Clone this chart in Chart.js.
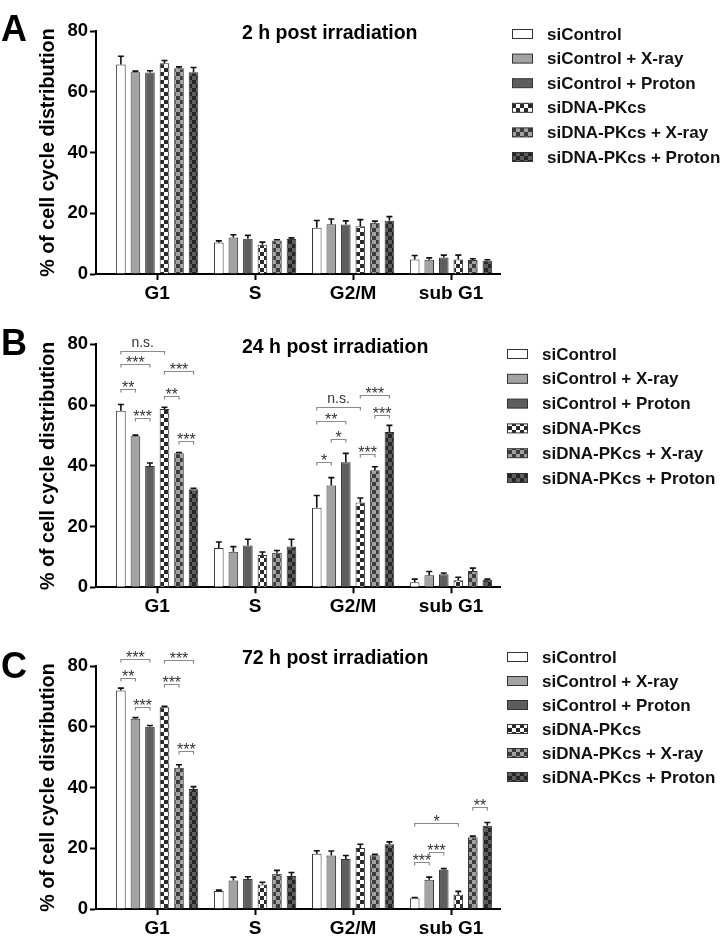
<!DOCTYPE html>
<html>
<head>
<meta charset="utf-8">
<script src="https://cdn.jsdelivr.net/npm/chart.js@4.4.1/dist/chart.umd.min.js"></script>
<style>
  body { margin: 0; background: #fff; width: 720px; height: 937px; overflow: hidden; position: relative; }
  .panel { position: absolute; left: 0; width: 720px; }
  canvas { display: block; }
</style>
</head>
<body>
<div class="panel" style="top:0"><canvas id="chartA" width="720" height="310"></canvas></div>
<div class="panel" style="top:310px"><canvas id="chartB" width="720" height="310"></canvas></div>
<div class="panel" style="top:620px"><canvas id="chartC" width="720" height="317"></canvas></div>
<script>
const categories = ['G1', 'S', 'G2/M', 'sub G1'];
const groups = ['siControl', 'siControl + X-ray', 'siControl + Proton', 'siDNA-PKcs', 'siDNA-PKcs + X-ray', 'siDNA-PKcs + Proton'];
const yTicks = [0, 20, 40, 60, 80];
const titles = ['2 h post irradiation', '24 h post irradiation', '72 h post irradiation'];
const letters = ['A', 'B', 'C'];

// one row per group, one column per category
const mean2h = [
  [69.0, 10.4, 15.2, 4.8],
  [66.4, 12.0, 16.4, 4.7],
  [66.3, 11.6, 16.3, 5.4],
  [69.4, 9.6, 15.7, 4.8],
  [67.7, 11.0, 16.9, 4.6],
  [66.4, 11.5, 17.5, 4.4]
];
const sem2h = [
  [2.7, 0.5, 2.4, 1.3],
  [0.4, 0.9, 1.7, 0.6],
  [0.6, 1.1, 1.2, 0.8],
  [0.9, 0.9, 2.2, 1.4],
  [0.5, 0.3, 0.5, 0.4],
  [1.6, 0.4, 1.4, 0.3]
];
const mean24h = [
  [58.1, 12.9, 26.2, 1.7],
  [49.7, 11.7, 33.5, 4.0],
  [39.9, 13.8, 41.2, 4.3],
  [58.7, 10.6, 27.9, 2.3],
  [44.1, 11.4, 38.5, 5.4],
  [32.3, 13.4, 51.1, 2.5]
];
const sem24h = [
  [2.1, 2.0, 4.0, 1.0],
  [0.4, 1.7, 2.6, 1.2],
  [1.0, 2.0, 2.9, 0.4],
  [0.6, 1.0, 1.5, 1.0],
  [0.3, 0.7, 1.2, 0.9],
  [0.3, 2.4, 2.2, 0.2]
];
const mean72h = [
  [71.9, 5.9, 18.2, 3.5],
  [62.6, 9.4, 17.6, 9.6],
  [60.0, 9.9, 16.5, 12.9],
  [66.4, 8.1, 20.1, 4.7],
  [46.5, 11.6, 17.7, 23.6],
  [39.5, 10.9, 21.3, 27.4]
];
const sem72h = [
  [0.8, 0.3, 1.0, 0.3],
  [0.4, 1.1, 1.5, 0.9],
  [0.4, 0.7, 1.1, 0.4],
  [0.3, 0.7, 1.2, 1.1],
  [1.0, 1.1, 0.3, 0.4],
  [0.8, 1.1, 0.8, 1.1]
];
// [category, group a, group b, bracket height, label]
const sig2h = [];
const sig24h = [
  [0, 0, 3, 77.9, 'n.s.'], [0, 0, 2, 73.4, '***'], [0, 0, 1, 65.2, '**'], [0, 1, 2, 55.7, '***'],
  [0, 3, 5, 71.2, '***'], [0, 3, 4, 63.1, '**'], [0, 4, 5, 48.3, '***'],
  [2, 0, 1, 41.3, '*'], [2, 1, 2, 48.8, '*'], [2, 0, 2, 54.7, '**'], [2, 0, 3, 59.5, 'n.s.'],
  [2, 3, 4, 43.9, '***'], [2, 4, 5, 56.7, '***'], [2, 3, 5, 63.3, '***']
];
const sig72h = [
  [0, 0, 2, 82.3, '***'], [0, 0, 1, 76.0, '**'], [0, 1, 2, 66.6, '***'],
  [0, 3, 5, 82.0, '***'], [0, 3, 4, 74.1, '***'], [0, 4, 5, 52.1, '***'],
  [3, 0, 3, 28.2, '*'], [3, 0, 1, 15.5, '***'], [3, 1, 2, 18.9, '***'], [3, 4, 5, 33.6, '**']
];

const FONT = "'Liberation Sans', Arial, sans-serif";

function checker(light, dark) {
  const c = document.createElement('canvas');
  c.width = 8; c.height = 8;
  const g = c.getContext('2d');
  g.fillStyle = light; g.fillRect(0, 0, 8, 8);
  g.fillStyle = dark; g.fillRect(0, 0, 4, 4); g.fillRect(4, 4, 4, 4);
  return g.createPattern(c, 'repeat');
}
const fills = ['#ffffff', '#a3a3a3', '#5e5e5e',
  checker('#ffffff', '#2a2a2a'), checker('#a2a2a2', '#3c3c3c'), checker('#5e5e5e', '#262626')];

// error bars, significance brackets, legend, panel letter and title
const marks = {
  id: 'marks',
  afterDatasetsDraw(chart, args, o) {
    const ctx = chart.ctx;
    const ys = chart.scales.y;
    ctx.save();
    ctx.strokeStyle = '#111';
    ctx.lineWidth = 1.6;
    o.sem.forEach((row, i) => {
      const meta = chart.getDatasetMeta(i);
      row.forEach((e, j) => {
        const bar = meta.data[j];
        const top = ys.getPixelForValue(o.mean[i][j] + e);
        ctx.beginPath();
        ctx.moveTo(bar.x, bar.y);
        ctx.lineTo(bar.x, top);
        ctx.moveTo(bar.x - 3, top);
        ctx.lineTo(bar.x + 3, top);
        ctx.stroke();
      });
    });

    ctx.lineWidth = 1.2;
    o.sig.forEach(([c, a, b, v, label]) => {
      const xa = chart.getDatasetMeta(a).data[c].x;
      const xb = chart.getDatasetMeta(b).data[c].x;
      const y = Math.round(ys.getPixelForValue(v)) + 0.5;
      ctx.strokeStyle = '#8a8a8a';
      ctx.beginPath();
      ctx.moveTo(xa, y + 3); ctx.lineTo(xa, y); ctx.lineTo(xb, y); ctx.lineTo(xb, y + 3);
      ctx.stroke();
      ctx.fillStyle = '#333';
      ctx.textAlign = 'center';
      ctx.textBaseline = 'alphabetic';
      if (label === 'n.s.') {
        ctx.font = '14px ' + FONT;
        ctx.fillText(label, (xa + xb) / 2, y - 5);
      } else {
        ctx.font = '16px ' + FONT;
        ctx.fillText(label, (xa + xb) / 2, y + 3);
      }
    });

    // legend
    ctx.textAlign = 'left';
    ctx.textBaseline = 'middle';
    ctx.font = 'bold 17px ' + FONT;
    groups.forEach((g, i) => {
      const cy = o.legendY + i * o.legendStep;
      ctx.fillStyle = fills[i];
      ctx.fillRect(o.legendX, cy - 4.5, 21, 9);
      ctx.strokeStyle = '#333';
      ctx.lineWidth = 1;
      ctx.strokeRect(o.legendX + 0.5, cy - 4.5, 20, 9);
      ctx.fillStyle = '#111';
      ctx.fillText(g, o.legendX + 35, cy + 1);
    });

    ctx.fillStyle = '#000';
    ctx.font = 'bold 36px ' + FONT;
    ctx.fillText(o.letter, 1, o.letterY);
    ctx.font = 'bold 19.5px ' + FONT;
    ctx.fillText(o.title, 242, o.titleY);
    ctx.restore();
  }
};

function makeChart(id, mean, sem, sig, k, top, bottom, h, legendX, legendY, legendStep, letterY, titleY) {
  const datasets = groups.map((g, i) => ({
    label: g,
    data: categories.map((c, j) => ({ x: j, y: mean[i][j] })),
    backgroundColor: fills[i],
    borderColor: '#333',
    borderWidth: 1,
    categoryPercentage: 0.89,
    barPercentage: 0.66
  }));
  return new Chart(document.getElementById(id), {
    type: 'bar',
    data: { datasets },
    plugins: [marks],
    options: {
      responsive: false,
      animation: false,
      layout: { padding: { top: top, right: 220, left: 0, bottom: 0 } },
      plugins: {
        legend: { display: false },
        tooltip: { enabled: false },
        marks: { mean, sem, sig, legendX, legendY, legendStep, letter: letters[k], title: titles[k], letterY, titleY }
      },
      scales: {
        x: {
          type: 'linear',
          min: -0.625,
          max: 3.5,
          offset: false,
          afterBuildTicks: s => { s.ticks = categories.map((c, j) => ({ value: j })); },
          afterFit: s => { s.height = h - bottom; },
          ticks: {
            callback: v => categories[v],
            color: '#000',
            padding: 2,
            maxRotation: 0,
            font: { family: FONT, size: 19, weight: 'bold' }
          },
          grid: { display: true, drawOnChartArea: false, drawTicks: true, tickLength: 6, tickWidth: 2, tickColor: '#000', offset: false },
          border: { display: true, color: '#000', width: 2 }
        },
        y: {
          min: 0,
          max: 80,
          afterBuildTicks: s => { s.ticks = yTicks.map(v => ({ value: v })); },
          afterFit: s => { s.width = 96; },
          ticks: {
            color: '#000',
            padding: 2,
            font: { family: FONT, size: 18.5, weight: 'bold' }
          },
          title: {
            display: true,
            text: '% of cell cycle distribution',
            color: '#000',
            padding: { top: 37, bottom: 0 },
            font: { family: FONT, size: 19.7, weight: 'bold' }
          },
          grid: { display: true, drawOnChartArea: false, drawTicks: true, tickLength: 6, tickWidth: 2, tickColor: '#000' },
          border: { display: true, color: '#000', width: 2 }
        }
      }
    }
  });
}

makeChart('chartA', mean2h, sem2h, sig2h, 0, 31, 274, 310, 512, 34, 24.6, 31, 34);
makeChart('chartB', mean24h, sem24h, sig24h, 1, 34.3, 277.3, 310, 507, 44, 24.8, 35, 38);
makeChart('chartC', mean72h, sem72h, sig72h, 2, 46, 289, 317, 507, 37, 24, 48, 39);
</script>
</body>
</html>
